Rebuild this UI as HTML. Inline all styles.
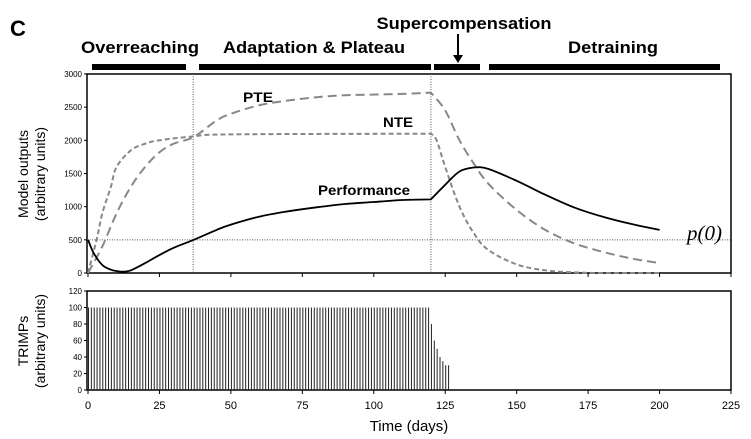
<!DOCTYPE html>
<html><head><meta charset="utf-8"><style>
body{margin:0;background:#fff;width:751px;height:439px;overflow:hidden}
svg{display:block;font-family:"Liberation Sans",sans-serif}
</style></head><body>
<svg id="c" width="751" height="439"></svg>
<script>
const perfDays=[0,2,5,8,10,12,15,20,25,30,37,45,50,60,70,80,90,100,110,120,125,130,135,140,150,160,170,180,190,200];
const perfVals=[500,300,120,50,30,20,40,150,270,380,500,650,730,850,930,990,1040,1070,1100,1110,1330,1530,1590,1570,1390,1180,990,850,740,650];
const pteDays=[0,5,10,15,20,25,30,37,45,50,60,70,80,90,100,110,120,125,130,135,140,150,160,170,180,190,200];
const pteVals=[0,400,900,1300,1600,1820,1950,2050,2300,2400,2530,2600,2650,2680,2690,2700,2720,2450,2000,1650,1350,950,650,450,320,220,150];
const nteDays=[0,3,5,8,10,15,20,25,37,50,120,122,125,130,135,140,150,160,170,180,200];
const nteVals=[0,500,900,1300,1600,1850,1950,2000,2060,2090,2100,2000,1600,1000,600,350,130,40,10,0,0];
const trimpVals=[];for(let d=0;d<120;d++)trimpVals.push(100);
trimpVals.push(80,60,50,40,35,30,30);
const xTicks=[0,25,50,75,100,125,150,175,200,225];
const yTopTicks=[0,500,1000,1500,2000,2500,3000];
const yBotTicks=[0,20,40,60,80,100,120];
const phases=[{name:"overreaching",x0:92,x1:186},{name:"adaptation",x0:199,x1:431},{name:"supercomp",x0:434,x1:480},{name:"detraining",x0:489,x1:720}];

const svg=document.getElementById('c');const NS='http://www.w3.org/2000/svg';
function el(t,a,p){const e=document.createElementNS(NS,t);for(const k in a)e.setAttribute(k,a[k]);(p||svg).appendChild(e);return e;}
const L=88,R=731;
const X=d=>L+(R-L)*d/225;
const YT=v=>273-199*v/3000;
const YB=v=>390-99*v/120;
let e;
e=el('rect',{x:87,y:74,width:644,height:199,fill:'none',stroke:'#000','stroke-width':1.5});

e=el('rect',{x:87,y:291,width:644,height:99,fill:'none',stroke:'#000','stroke-width':1.5});

yTopTicks.forEach(v=>{el('line',{x1:84,x2:87,y1:YT(v),y2:YT(v),stroke:'#000'});
 e=el('text',{x:82,y:YT(v)+3,'font-size':8,'text-anchor':'end'});e.textContent=v;
 });
yBotTicks.forEach(v=>{el('line',{x1:84,x2:87,y1:YB(v),y2:YB(v),stroke:'#000'});
 e=el('text',{x:82,y:YB(v)+3,'font-size':8,'text-anchor':'end'});e.textContent=v;
 });
xTicks.forEach(v=>{el('line',{x1:X(v),x2:X(v),y1:273,y2:277,stroke:'#000'});el('line',{x1:X(v),x2:X(v),y1:390,y2:394,stroke:'#000'});
 e=el('text',{x:X(v),y:409,'font-size':11,'text-anchor':'middle'});e.textContent=v;
 });
el('line',{x1:X(36.8),x2:X(36.8),y1:74,y2:273,stroke:'#555','stroke-dasharray':'1,1.5'});
el('line',{x1:X(120),x2:X(120),y1:74,y2:273,stroke:'#555','stroke-dasharray':'1,1.5'});
el('line',{x1:87,x2:731,y1:YT(500),y2:YT(500),stroke:'#555','stroke-dasharray':'1,1.5'});
const BREAK=120;
function path(ds,vs,attrs,name){
 const P=ds.map((x,i)=>[X(x),YT(vs[i])]);
 const bi=ds.indexOf(BREAK);
 let d='M'+P[0][0].toFixed(1)+','+P[0][1].toFixed(1);
 for(let i=0;i<P.length-1;i++){
  const i0=(i===bi)?i:Math.max(0,i-1), i3=(i+1===bi)?i+1:Math.min(P.length-1,i+2);
  const p0=P[i0],p1=P[i],p2=P[i+1],p3=P[i3];
  const c1=[p1[0]+(p2[0]-p0[0])/6,p1[1]+(p2[1]-p0[1])/6],c2=[p2[0]-(p3[0]-p1[0])/6,p2[1]-(p3[1]-p1[1])/6];
  d+='C'+c1.map(n=>n.toFixed(1))+' '+c2.map(n=>n.toFixed(1))+' '+p2.map(n=>n.toFixed(1));}
 const p=el('path',Object.assign({d,fill:'none'},attrs));}
path(pteDays,pteVals,{stroke:'#888','stroke-width':2,'stroke-dasharray':'9,5'},'pte-line');
path(nteDays,nteVals,{stroke:'#888','stroke-width':2,'stroke-dasharray':'5,3'},'nte-line');
path(perfDays,perfVals,{stroke:'#000','stroke-width':1.8},'performance-line');
trimpVals.forEach((v,i)=>{const b=el('line',{x1:X(i)+0.5,x2:X(i)+0.5,y1:390,y2:YB(v),stroke:'#222','stroke-width':1});
 });
phases.forEach(p=>{const r=el('rect',{x:p.x0,y:64,width:p.x1-p.x0,height:6,fill:'#000'});
 });
el('line',{x1:458,x2:458,y1:34,y2:58,stroke:'#000','stroke-width':2});
el('path',{d:'M453,55 L463,55 L458,63 Z',fill:'#000'});
function txt(x,y,s,a,name){const t=el('text',Object.assign({x,y},a));t.textContent=s;return t;}
const bold={'font-size':17,'font-weight':'bold','text-anchor':'middle',lengthAdjust:'spacingAndGlyphs'};
txt(140,53,'Overreaching',Object.assign({textLength:118},bold),'phase-label-overreaching');
txt(314,53,'Adaptation & Plateau',Object.assign({textLength:182},bold),'phase-label-adaptation');
txt(464,29,'Supercompensation',Object.assign({textLength:175},bold),'phase-label-supercompensation');
txt(613,53,'Detraining',Object.assign({textLength:90},bold),'phase-label-detraining');
txt(10,36,'C',{'font-size':22,'font-weight':'bold'},'panel-letter');
txt(258,102,'PTE',{'font-size':14,'font-weight':'bold','text-anchor':'middle',textLength:30,lengthAdjust:'spacingAndGlyphs'},'pte-label');
txt(398,127,'NTE',{'font-size':14,'font-weight':'bold','text-anchor':'middle',textLength:30,lengthAdjust:'spacingAndGlyphs'},'nte-label');
txt(364,195,'Performance',{'font-size':14,'font-weight':'bold','text-anchor':'middle',textLength:92,lengthAdjust:'spacingAndGlyphs'},'performance-label');
txt(687,240,'p(0)',{'font-size':21,'font-style':'italic','font-family':'Liberation Serif,serif'},'p0-label');
txt(409,431,'Time (days)',{'font-size':15,'text-anchor':'middle'},'x-axis-title');
txt(0,0,'Model outputs',{'font-size':14,'text-anchor':'middle',transform:'translate(28,174) rotate(-90)'},'y-axis-title-top');
txt(0,0,'(arbitrary units)',{'font-size':14,'text-anchor':'middle',transform:'translate(45,174) rotate(-90)'},'y-axis-units-top');
txt(0,0,'TRIMPs',{'font-size':14,'text-anchor':'middle',transform:'translate(28,341) rotate(-90)'},'y-axis-title-bottom');
txt(0,0,'(arbitrary units)',{'font-size':14,'text-anchor':'middle',transform:'translate(45,341) rotate(-90)'},'y-axis-units-bottom');
</script>
</body></html>
